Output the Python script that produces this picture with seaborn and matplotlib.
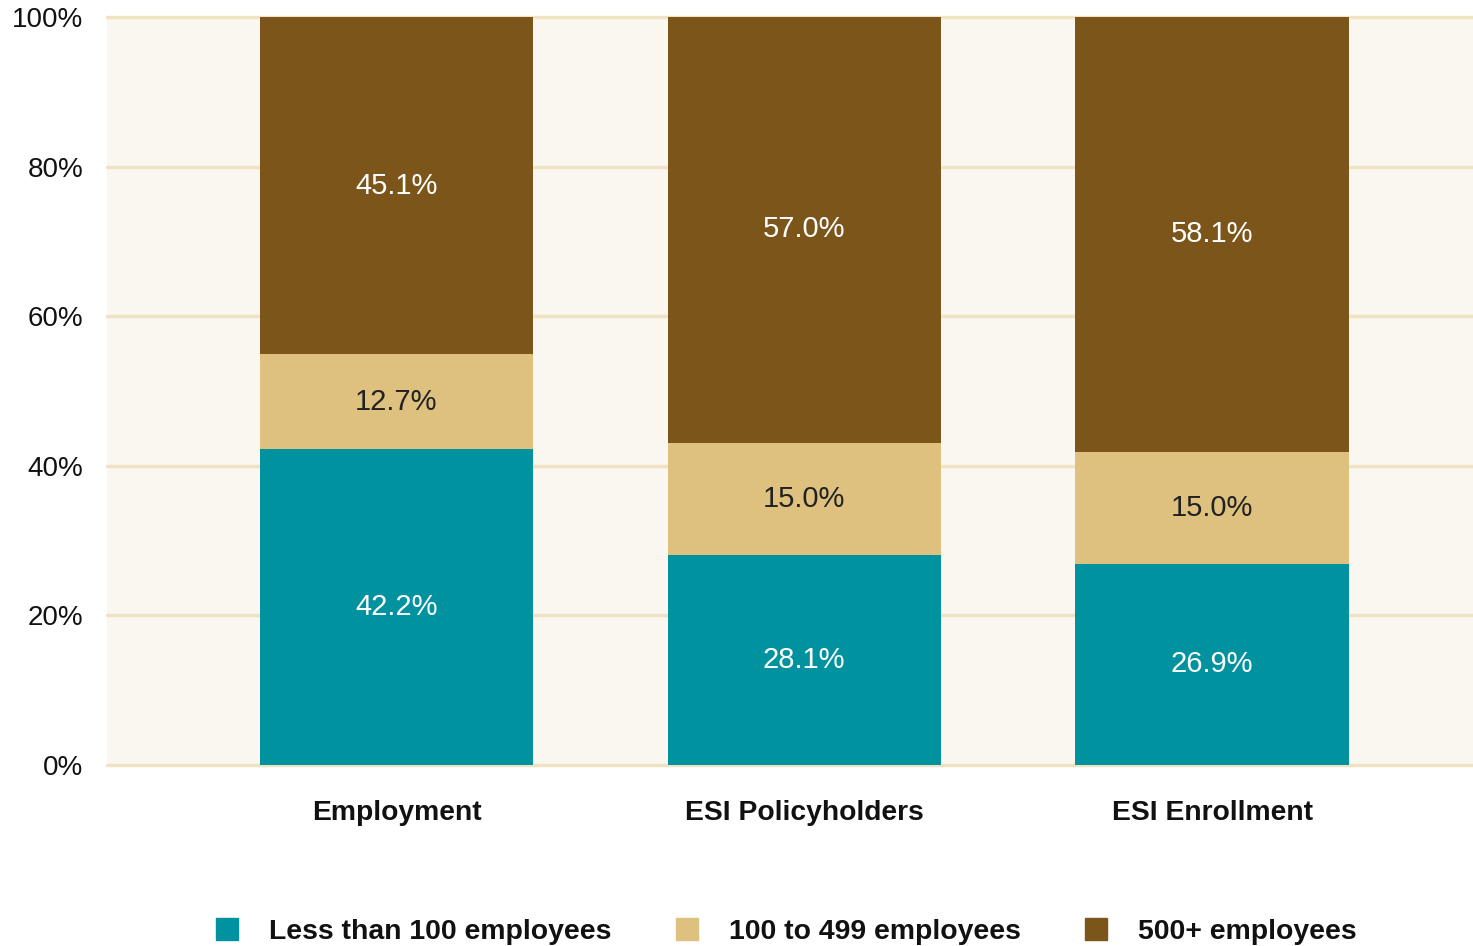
import matplotlib
matplotlib.use("Agg")
import matplotlib.pyplot as plt
from matplotlib.lines import Line2D
import seaborn as sns
import pandas as pd
import numpy as np

categories = ["Employment", "ESI Policyholders", "ESI Enrollment"]
small = [42.2, 28.1, 26.9]
mid = [12.7, 15.0, 15.0]
large = [45.1, 57.0, 58.1]
series_names = ["Less than 100 employees", "100 to 499 employees", "500+ employees"]
colors = ["#00929F", "#DEC17F", "#7B5519"]
text_colors = ["white", "#222222", "white"]
yticks = [0, 20, 40, 60, 80, 100]

sns.set_theme(style="white")
plt.rcParams["font.family"] = ["Liberation Sans", "DejaVu Sans"]

fig = plt.figure(figsize=(14.73, 9.46), dpi=100)
ax = fig.add_axes([0.0726, 0.1913, 0.9274, 0.7907])
ax.set_facecolor("#FAF7F0")

series = [small, mid, large]
bottom = np.zeros(len(categories))
for vals, col, tcol in zip(series, colors, text_colors):
    df = pd.DataFrame({"cat": categories, "val": vals})
    sns.barplot(data=df, x="cat", y="val", color=col, bottom=bottom,
                width=0.67, ax=ax, saturation=1, zorder=3, linewidth=0)
    for i, v in enumerate(vals):
        ax.text(i, bottom[i] + v / 2, f"{v:.1f}%", ha="center", va="center",
                color=tcol, fontsize=21, zorder=4)
    bottom = bottom + np.array(vals)

ax.set_xlim(-0.71, 2.64)
ax.set_ylim(0, 100)
ax.set_yticks(yticks)
ax.set_yticklabels([f"{t}%" for t in yticks], fontsize=20, color="#111111")
ax.tick_params(axis="y", length=0, pad=17)
ax.tick_params(axis="x", length=0, pad=25)
for lbl in ax.get_xticklabels():
    lbl.set_fontweight("bold")
    lbl.set_fontsize(20.3)
    lbl.set_color("#111111")
ax.set_xlabel("")
ax.set_ylabel("")
for t in yticks:
    ax.axhline(t, color="#F0E3C3", linewidth=2.5, zorder=1, clip_on=False)
for s in ax.spines.values():
    s.set_visible(False)

handles = [Line2D([0], [0], marker="s", linestyle="none", markersize=16,
                  markerfacecolor=c, markeredgecolor=c) for c in colors]
leg = fig.legend(handles, series_names, loc="lower center", bbox_to_anchor=(0.528, -0.026),
                 ncol=3, frameon=False, handletextpad=0.48, columnspacing=1.66,
                 prop={"size": 20.4, "weight": "bold"})
for t in leg.get_texts():
    t.set_color("#111111")

fig.savefig("out.png", dpi=100, facecolor="white")
